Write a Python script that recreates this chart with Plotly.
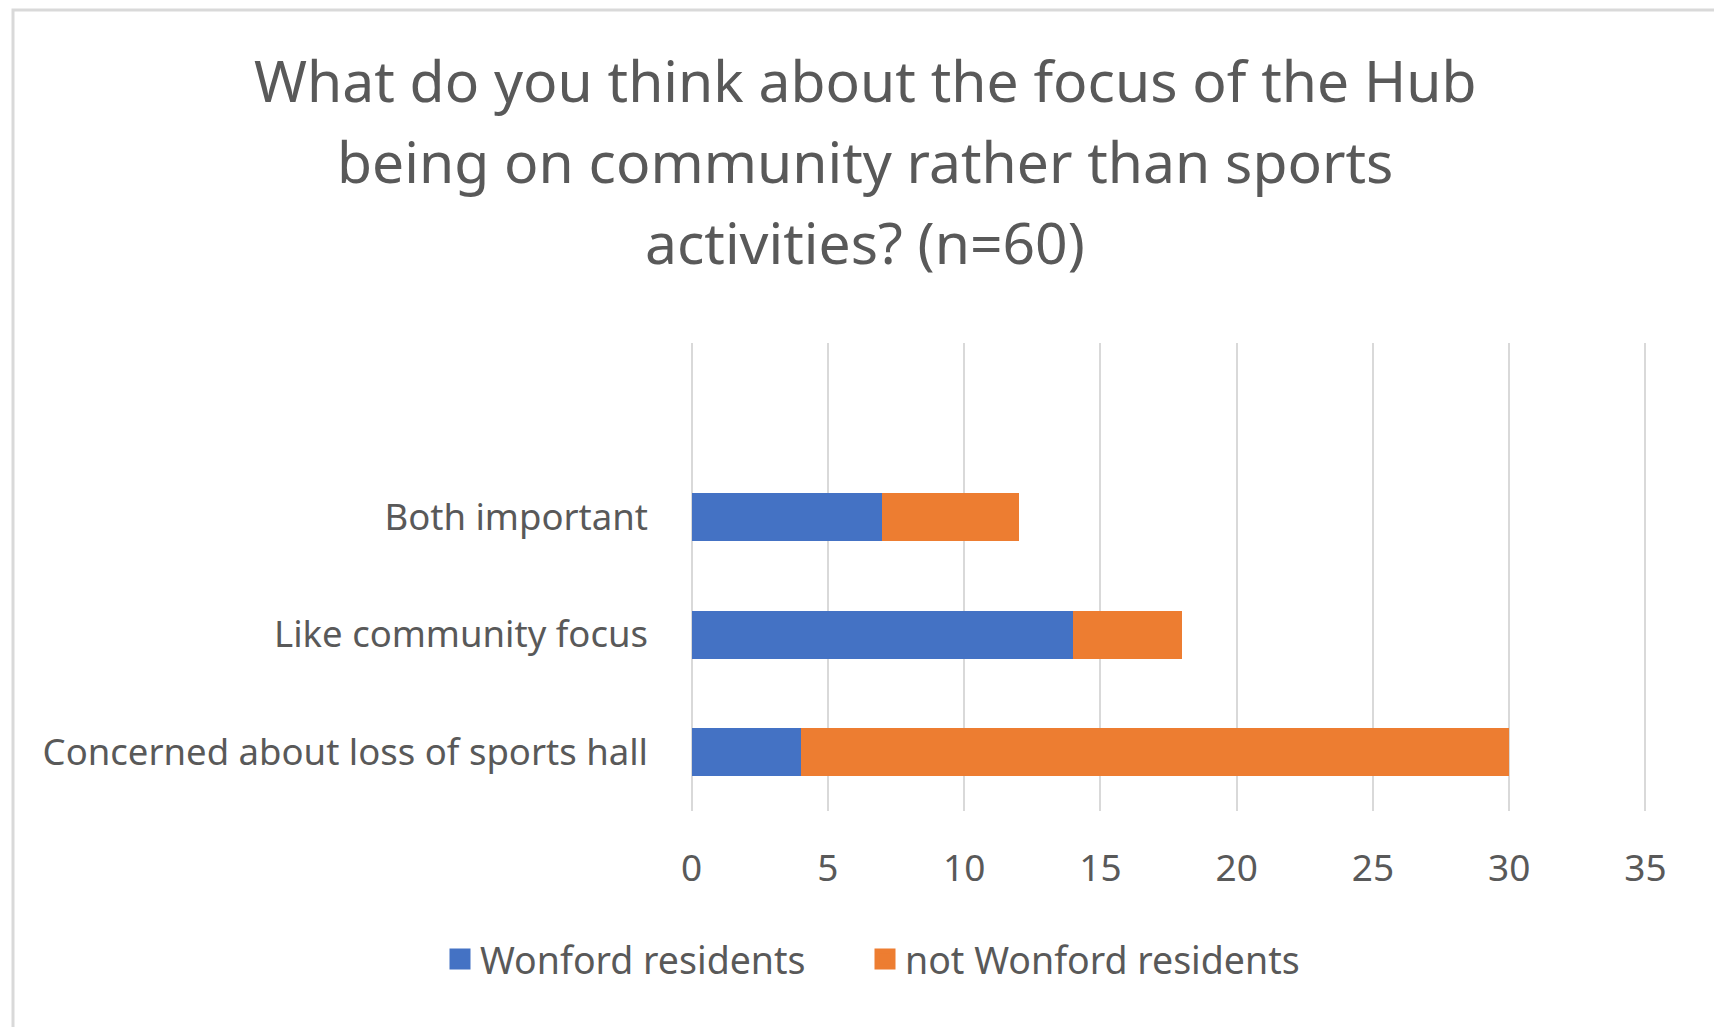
import plotly.graph_objects as go

categories = ["Concerned about loss of sports hall", "Like community focus", "Both important"]
wonford = [4, 14, 7]
not_wonford = [26, 4, 5]
series_names = ["Wonford residents", "not Wonford residents"]
colors = ["#4472C4", "#ED7D31"]
title_lines = ["What do you think about the focus of the Hub",
               "being on community rather than sports",
               "activities? (n=60)"]
x_ticks = [0, 5, 10, 15, 20, 25, 30, 35]

W, H = 1722, 1027
OFF = 8  # page body margin
PAD = 0.06  # small range padding so edge gridlines are drawn
unit = 954 / 35
L, T = round(692 - PAD * unit) - OFF, 343 - OFF
pw, ph = round(954 + 2 * PAD * unit), 468
R = W - L - pw
B = H - T - ph
FONT = "Noto Sans"
GRAY = "#595959"

def px_x(p):
    return (p - OFF - L) / pw
def px_y(p):
    return (T + ph - (p - OFF)) / ph

legend_ids = ["legend", "legend2"]
legend_left = [440, 865]

fig = go.Figure()
for name, vals, col in zip(series_names, [wonford, not_wonford], colors):
    fig.add_trace(go.Bar(y=categories, x=vals, name=name, orientation="h",
                         marker=dict(color=col, line=dict(width=0)),
                         showlegend=False))
# legend entries with large square swatches
for name, col, lg in zip(series_names, colors, legend_ids):
    fig.add_trace(go.Scatter(x=[None], y=[None], mode="markers", name=name,
                             marker=dict(symbol="square", size=16, color=col,
                                         line=dict(color=col, width=5)),
                             showlegend=True, legend=lg))

legend_style = dict(orientation="h", yanchor="middle", y=px_y(959),
                    xanchor="left", font=dict(size=37.5, color=GRAY),
                    itemwidth=30, bgcolor="rgba(0,0,0,0)")

fig.update_layout(
    width=W, height=H,
    margin=dict(l=L, r=R, t=T, b=B),
    barmode="stack", bargap=0.59,
    paper_bgcolor="white", plot_bgcolor="white",
    font=dict(family=FONT, color=GRAY, size=36),
    showlegend=True,
    legend=dict(x=px_x(legend_left[0]), **legend_style),
    legend2=dict(x=px_x(legend_left[1]), **legend_style),
    xaxis=dict(range=[-PAD, 35 + PAD], tickvals=x_ticks, showgrid=True,
               gridcolor="#D9D9D9", gridwidth=2, zeroline=False,
               showline=False, ticks="", ticklabelstandoff=32,
               tickfont=dict(size=37, color=GRAY), fixedrange=True),
    yaxis=dict(range=[-0.5, 3.48], showgrid=False, zeroline=False,
               showline=False, ticks="", ticklabelstandoff=41,
               tickfont=dict(size=36.5, color=GRAY), fixedrange=True),
)

title_y = [80, 161, 242]
for line, yy in zip(title_lines, title_y):
    fig.add_annotation(text=line, xref="paper", yref="paper",
                       x=px_x(865), y=px_y(yy), xanchor="center", yanchor="middle",
                       showarrow=False, font=dict(size=57, color=GRAY, family=FONT))

fig.add_shape(type="rect", xref="paper", yref="paper",
              x0=px_x(13), x1=px_x(1716), y0=px_y(1045), y1=px_y(10),
              line=dict(color="#D9D9D9", width=3), layer="below")

fig.write_html("out.html")
